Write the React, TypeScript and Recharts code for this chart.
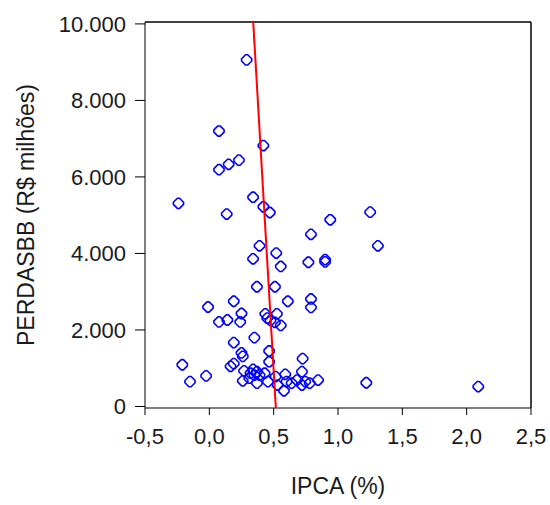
import React from 'react';
import { ScatterChart, Scatter, XAxis, YAxis, Label, ReferenceLine } from 'recharts';

// IPCA (%) monthly vs PERDASBB (R$ millions)
const ipca = [
  0.29, 0.075, 0.42, 0.23, 0.15, 0.075, -0.24, 0.34, 0.42, 0.47,
  0.135, 1.25, 0.94, 0.79, 1.31, 0.39, 0.52, 0.34, 0.77, 0.9,
  0.9, 0.555, 0.37, 0.51, 0.61, 0.19, 0.79, 0.79, -0.01, 0.25,
  0.435, 0.525, 0.14, 0.075, 0.24, 0.45, 0.475, 0.51, 0.555, 0.35,
  0.19, 0.465, 0.25, 0.26, 0.725, 0.465, -0.21, 0.165, 0.19, -0.025,
  -0.15, 1.22, 2.09, 0.72, 0.27, 0.34, 0.37, 0.35, 0.39, 0.43,
  0.32, 0.26, 0.31, 0.37, 0.455, 0.515, 0.53, 0.59, 0.6, 0.58,
  0.64, 0.68, 0.745, 0.72, 0.78, 0.845,
];
const perdas = [
  9060, 7200, 6820, 6440, 6330, 6190, 5310, 5470, 5220, 5070,
  5030, 5080, 4880, 4500, 4200, 4200, 4010, 3860, 3770, 3840,
  3780, 3660, 3130, 3130, 2750, 2750, 2810, 2590, 2600, 2430,
  2420, 2420, 2260, 2210, 2210, 2310, 2250, 2200, 2120, 1800,
  1670, 1450, 1400, 1310, 1250, 1170, 1090, 1050, 1120, 800,
  650, 620, 520, 910, 930, 970, 910, 820, 820, 870,
  870, 670, 740, 610, 650, 780, 560, 840, 650, 410,
  610, 690, 650, 560, 610, 690,
];

// fitted line end points
const fitX = [0.341, 0.517];
const fitY = [10050, -40];

const xTicks = [-0.5, 0, 0.5, 1, 1.5, 2, 2.5];
const yTicks = [0, 2000, 4000, 6000, 8000, 10000];

const points = ipca.map((x, i) => ({ x, y: perdas[i] }));
const fitLine = fitX.map((x, i) => ({ x, y: fitY[i] }));

const font = '"Liberation Sans", Arial, sans-serif';

// rotated square with its corners slightly clipped, like the original markers
const Diamond = (props: any) => {
  const { cx, cy } = props;
  const r = 6.2;
  const c = 1.1;
  const pts = [
    [-c, -r + c], [c, -r + c], [r - c, -c], [r - c, c],
    [c, r - c], [-c, r - c], [-r + c, c], [-r + c, -c],
  ];
  const d = pts.map((p, i) => `${i === 0 ? 'M' : 'L'}${cx + p[0]},${cy + p[1]}`).join('') + 'Z';
  return <path d={d} fill="none" stroke="#0000ff" strokeWidth={1.6} strokeLinejoin="round" />;
};

const App = () => {
  return (
    <div style={{ position: 'absolute', left: 0, top: 0, fontFamily: font }}>
      <ScatterChart width={550} height={505} margin={{ top: 22, right: 19, bottom: 0, left: 0 }}>
        <XAxis
          dataKey="x"
          type="number"
          domain={[-0.5, 2.5]}
          ticks={xTicks}
          height={97}
          tickSize={7}
          tickMargin={13}
          stroke="#000"
          tick={{ fill: '#1a1a1a', fontSize: 22, fontFamily: font }}
          tickFormatter={(v: number) => v.toFixed(1).replace('.', ',')}
        >
          <Label value="IPCA (%)" position="insideBottom" offset={11} fill="#1a1a1a" fontSize={23} fontFamily={font} />
        </XAxis>
        <YAxis
          dataKey="y"
          type="number"
          domain={[-40, 10050]}
          ticks={yTicks}
          width={145}
          tickSize={10}
          tickMargin={9}
          stroke="#000"
          tick={{ fill: '#1a1a1a', fontSize: 22, fontFamily: font }}
          tickFormatter={(v: number) => v.toLocaleString('de-DE')}
        >
          <Label
            value="PERDASBB (R$ milhões)"
            angle={-90}
            position="insideLeft"
            offset={26}
            fill="#1a1a1a"
            fontSize={23}
            fontFamily={font}
            style={{ textAnchor: 'middle' }}
          />
        </YAxis>
        {/* frame on top and right */}
        <ReferenceLine y={10050} stroke="#000" strokeWidth={1.5} />
        <ReferenceLine x={2.5} stroke="#000" strokeWidth={1.5} />
        <Scatter data={points} shape={Diamond} isAnimationActive={false} />
        <Scatter
          data={fitLine}
          line={{ stroke: '#ff0000', strokeWidth: 2 }}
          shape={() => <g />}
          isAnimationActive={false}
        />
      </ScatterChart>
    </div>
  );
};

export default App;
